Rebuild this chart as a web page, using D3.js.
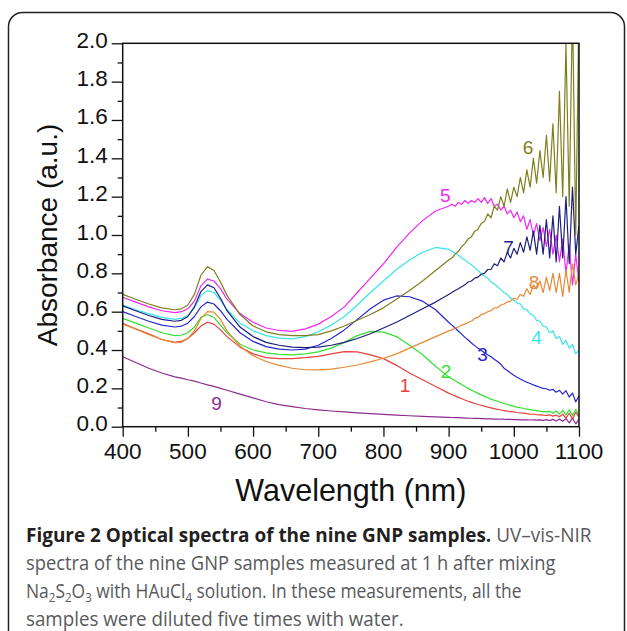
<!DOCTYPE html>
<html>
<head>
<meta charset="utf-8">
<script src="https://cdn.jsdelivr.net/npm/d3@7"></script>
<style>
  body { margin: 0; background: #fff; }
  svg { display: block; }
  .tick-label { font-family: "Liberation Sans", Arial, sans-serif; font-size: 22.5px; fill: #111; }
  .axis-title { font-family: "Liberation Sans", Arial, sans-serif; font-size: 30.5px; fill: #111; }
  .series-label { font-family: "Liberation Sans", Arial, sans-serif; font-size: 19px; }
  .caption { font-family: "Open Sans", "Noto Sans", sans-serif; font-size: 19.5px; fill: #58595b; }
  .caption .bold { font-weight: bold; fill: #231f20; }
</style>
</head>
<body>
<svg id="spectra" width="627" height="631"></svg>
<script>
// wavelength grid (nm): coarse through the plasmon region, fine in the noisy NIR tail
var wlHead = [400, 420, 440, 460, 480, 490, 500, 510, 520, 530, 540, 550, 560, 580, 600,
  620, 640, 660, 680, 700, 720, 740, 760, 780, 800, 820, 840, 860, 880, 900];
var wlTail = [905, 910, 915, 920, 925, 930, 935, 940, 945, 950, 955, 960, 965, 970, 975,
  980, 985, 990, 995, 1000, 1005, 1010, 1015, 1020, 1025, 1030, 1035, 1040, 1045, 1050,
  1055, 1060, 1065, 1070, 1075, 1080, 1085, 1090, 1095, 1100];

// absorbance, one array per sample (same order as the grid)
var sample1 = [0.54, 0.51, 0.485, 0.455, 0.44, 0.445, 0.46, 0.49, 0.525, 0.545, 0.535, 0.505, 0.47, 0.415, 0.38,
  0.36, 0.355, 0.355, 0.36, 0.367, 0.38, 0.392, 0.39, 0.375, 0.355, 0.32, 0.28, 0.245, 0.21, 0.175,
  0.168, 0.161, 0.153, 0.146, 0.139, 0.133, 0.127, 0.121, 0.116, 0.112, 0.107, 0.102, 0.098, 0.094, 0.090,
  0.087, 0.084, 0.081, 0.079, 0.077, 0.074, 0.072, 0.071, 0.068, 0.066, 0.065, 0.063, 0.062, 0.060, 0.059,
  0.062, 0.055, 0.060, 0.052, 0.065, 0.045, 0.070, 0.040, 0.075, 0.050];
var sample2 = [0.565, 0.54, 0.515, 0.49, 0.475, 0.477, 0.49, 0.52, 0.57, 0.585, 0.57, 0.53, 0.49, 0.43, 0.40,
  0.385, 0.377, 0.375, 0.38, 0.39, 0.41, 0.44, 0.475, 0.497, 0.493, 0.47, 0.425, 0.375, 0.315, 0.26,
  0.25, 0.24, 0.23, 0.22, 0.21, 0.20, 0.19, 0.182, 0.174, 0.166, 0.158, 0.151, 0.144, 0.138, 0.132,
  0.126, 0.121, 0.116, 0.111, 0.106, 0.102, 0.099, 0.095, 0.092, 0.089, 0.086, 0.084, 0.081, 0.079, 0.077,
  0.080, 0.070, 0.082, 0.066, 0.085, 0.062, 0.088, 0.058, 0.090, 0.060];
var sample3 = [0.60, 0.575, 0.55, 0.53, 0.52, 0.525, 0.54, 0.575, 0.625, 0.65, 0.64, 0.605, 0.56, 0.49, 0.445,
  0.418, 0.405, 0.40, 0.405, 0.425, 0.46, 0.505, 0.56, 0.615, 0.66, 0.682, 0.678, 0.655, 0.61, 0.545,
  0.53, 0.515, 0.498, 0.483, 0.466, 0.452, 0.437, 0.423, 0.41, 0.398, 0.386, 0.375, 0.365, 0.352, 0.34,
  0.326, 0.305, 0.293, 0.28, 0.268, 0.258, 0.249, 0.24, 0.232, 0.225, 0.218, 0.212, 0.206, 0.20, 0.198,
  0.19, 0.195, 0.18, 0.19, 0.17, 0.188, 0.155, 0.175, 0.13, 0.16];
var sample4 = [0.635, 0.61, 0.59, 0.57, 0.56, 0.565, 0.58, 0.62, 0.685, 0.71, 0.70, 0.66, 0.61, 0.54, 0.50,
  0.475, 0.462, 0.458, 0.47, 0.495, 0.53, 0.575, 0.635, 0.70, 0.76, 0.82, 0.87, 0.91, 0.935, 0.925,
  0.915, 0.905, 0.895, 0.88, 0.87, 0.855, 0.845, 0.83, 0.815, 0.80, 0.785, 0.775, 0.755, 0.745, 0.73,
  0.715, 0.70, 0.69, 0.67, 0.66, 0.645, 0.64, 0.615, 0.61, 0.59, 0.58, 0.555, 0.55, 0.525, 0.52,
  0.49, 0.50, 0.46, 0.47, 0.43, 0.45, 0.41, 0.43, 0.38, 0.40];
var sample5 = [0.675, 0.65, 0.625, 0.605, 0.595, 0.60, 0.615, 0.655, 0.735, 0.77, 0.76, 0.72, 0.665, 0.59, 0.545,
  0.515, 0.502, 0.497, 0.51, 0.535, 0.575, 0.625, 0.70, 0.775, 0.85, 0.935, 1.01, 1.075, 1.125, 1.15,
  1.16, 1.15, 1.17, 1.16, 1.18, 1.165, 1.18, 1.17, 1.19, 1.17, 1.195, 1.165, 1.19, 1.15, 1.16,
  1.13, 1.15, 1.11, 1.13, 1.09, 1.12, 1.07, 1.10, 1.03, 1.08, 1.00, 1.06, 0.97, 1.04, 0.94,
  1.03, 0.90, 1.00, 0.86, 0.98, 0.80, 0.95, 0.74, 0.90, 0.75];
var sample6 = [0.69, 0.665, 0.64, 0.62, 0.61, 0.615, 0.635, 0.69, 0.79, 0.835, 0.815, 0.755, 0.685, 0.585, 0.525,
  0.495, 0.48, 0.475, 0.475, 0.48, 0.50, 0.525, 0.555, 0.585, 0.62, 0.665, 0.71, 0.76, 0.815, 0.87,
  0.88, 0.90, 0.915, 0.94, 0.955, 0.98, 0.99, 1.02, 1.03, 1.06, 1.07, 1.11, 1.09, 1.15, 1.13,
  1.20, 1.15, 1.24, 1.17, 1.25, 1.20, 1.30, 1.22, 1.34, 1.25, 1.40, 1.27, 1.44, 1.30, 1.52,
  1.28, 1.58, 1.22, 1.75, 1.20, 2.00, 1.15, 2.20, 1.00, 2.20];
var sample7 = [0.63, 0.605, 0.58, 0.56, 0.55, 0.555, 0.575, 0.625, 0.705, 0.74, 0.725, 0.67, 0.605, 0.52, 0.47,
  0.44, 0.425, 0.415, 0.412, 0.415, 0.425, 0.44, 0.46, 0.485, 0.515, 0.545, 0.58, 0.615, 0.65, 0.69,
  0.70, 0.71, 0.72, 0.73, 0.74, 0.755, 0.76, 0.775, 0.78, 0.795, 0.80, 0.82, 0.82, 0.85, 0.84,
  0.88, 0.86, 0.91, 0.88, 0.93, 0.90, 0.96, 0.91, 0.99, 0.92, 1.02, 0.90, 1.05, 0.90, 1.08,
  0.88, 1.10, 0.86, 1.15, 0.88, 1.20, 0.85, 1.25, 0.90, 1.05];
var sample8 = [0.535, 0.51, 0.48, 0.455, 0.438, 0.44, 0.46, 0.50, 0.565, 0.60, 0.598, 0.56, 0.50, 0.42, 0.37,
  0.34, 0.32, 0.305, 0.297, 0.296, 0.30, 0.31, 0.322, 0.338, 0.357, 0.38, 0.41, 0.44, 0.47, 0.50,
  0.505, 0.515, 0.52, 0.53, 0.535, 0.545, 0.55, 0.565, 0.57, 0.585, 0.59, 0.60, 0.605, 0.62, 0.62,
  0.635, 0.64, 0.65, 0.655, 0.67, 0.665, 0.69, 0.68, 0.72, 0.69, 0.74, 0.72, 0.76, 0.70, 0.78,
  0.71, 0.80, 0.70, 0.80, 0.68, 0.82, 0.70, 0.85, 0.74, 0.80];
var sample9 = [0.365, 0.335, 0.305, 0.28, 0.26, 0.253, 0.245, 0.238, 0.228, 0.218, 0.21, 0.20, 0.19, 0.17, 0.15,
  0.13, 0.115, 0.105, 0.095, 0.088, 0.082, 0.077, 0.072, 0.068, 0.064, 0.060, 0.057, 0.054, 0.051, 0.049,
  0.048, 0.047, 0.047, 0.046, 0.045, 0.045, 0.044, 0.043, 0.043, 0.042, 0.042, 0.041, 0.041, 0.040, 0.040,
  0.039, 0.039, 0.038, 0.038, 0.037, 0.037, 0.036, 0.036, 0.036, 0.035, 0.036, 0.034, 0.036, 0.033, 0.037,
  0.032, 0.038, 0.030, 0.040, 0.028, 0.042, 0.020, 0.045, 0.015, 0.040];

var sampleNames = ["1", "2", "3", "4", "5", "6", "7", "8", "9"];
var sampleColors = ["#e8403c", "#33e033", "#2626d0", "#38e4ea", "#f028f0", "#7f7f1e", "#1e1e7c", "#e58a34", "#8e2c8e"];
// where each number sits, in data units [wavelength, absorbance]
var labelPos = [[833, 0.217], [896, 0.29], [952, 0.38], [1035, 0.47], [895, 1.21],
  [1022, 1.46], [992, 0.94], [1031, 0.755], [544, 0.125]];
var drawOrder = [8, 0, 1, 2, 3, 4, 7, 6, 5];

var xTicks = [400, 500, 600, 700, 800, 900, 1000, 1100];
var yTicks = [0, 0.2, 0.4, 0.6, 0.8, 1.0, 1.2, 1.4, 1.6, 1.8, 2.0];

var captionLines = [
  [{ t: "Figure 2 Optical spectra of the nine GNP samples.", b: true }, { t: " UV\u2013vis-NIR" }],
  [{ t: "spectra of the nine GNP samples measured at 1 h after mixing" }],
  [{ t: "Na" }, { t: "2", sub: true }, { t: "S" }, { t: "2", sub: true }, { t: "O" }, { t: "3", sub: true },
   { t: " with HAuCl" }, { t: "4", sub: true }, { t: " solution. In these measurements, all the" }],
  [{ t: "samples were diluted five times with water." }]
];
var captionWidths = [566, 530, 496, 378];

/**
 * Draws the framed absorbance plot.
 */
function drawSpectra(svg) {
  var left = 122.7, top = 43.3, right = 579, bottom = 426.7;
  var wavelengths = wlHead.concat(wlTail);
  var samples = [sample1, sample2, sample3, sample4, sample5, sample6, sample7, sample8, sample9];

  var xScale = d3.scaleLinear().domain([400, 1100]).range([left, right]);
  var yScale = d3.scaleLinear().domain([0, 2]).range([bottom, top]);

  svg.append("defs").append("clipPath")
    .attr("id", "plot-clip")
    .append("rect")
    .attr("x", left).attr("y", top)
    .attr("width", right - left).attr("height", bottom - top);

  var line = d3.line()
    .x(function(d) { return xScale(d[0]); })
    .y(function(d) { return yScale(d[1]); });

  var curves = svg.append("g").attr("clip-path", "url(#plot-clip)");
  drawOrder.forEach(function(i) {
    var pts = wavelengths.map(function(w, k) { return [w, samples[i][k]]; });
    curves.append("path")
      .attr("d", line(pts))
      .attr("fill", "none")
      .attr("stroke", sampleColors[i])
      .attr("stroke-width", 1.2)
      .attr("stroke-linejoin", "round");
  });

  // x axis: major ticks every 100 nm, minor every 50 nm
  var xAxis = svg.append("g")
    .attr("transform", "translate(0," + bottom + ")")
    .call(d3.axisBottom(xScale).tickValues(d3.range(400, 1101, 50)).tickSize(5).tickFormat(""));
  xAxis.selectAll(".tick line").filter(function(d) { return d % 100 === 0; }).attr("y2", 10);
  xAxis.select(".domain").remove();
  xAxis.selectAll("line").attr("stroke", "#111").attr("stroke-width", 1.3);

  var yAxis = svg.append("g")
    .attr("transform", "translate(" + left + ",0)")
    .call(d3.axisLeft(yScale).tickValues(d3.range(0, 21).map(function(v) { return v / 10; })).tickSize(5).tickFormat(""));
  yAxis.selectAll(".tick line").filter(function(d, i) { return i % 2 === 0; }).attr("x2", -11);
  yAxis.select(".domain").remove();
  yAxis.selectAll("line").attr("stroke", "#111").attr("stroke-width", 1.3);

  svg.append("rect")
    .attr("x", left).attr("y", top)
    .attr("width", right - left).attr("height", bottom - top)
    .attr("fill", "none")
    .attr("stroke", "#111")
    .attr("stroke-width", 1.5);

  svg.selectAll(".x-label")
    .data(xTicks)
    .enter().append("text")
    .attr("class", "tick-label")
    .attr("x", function(d) { return xScale(d); })
    .attr("y", bottom + 32.5)
    .attr("text-anchor", "middle")
    .text(function(d) { return d; });

  svg.selectAll(".y-label")
    .data(yTicks)
    .enter().append("text")
    .attr("class", "tick-label")
    .attr("x", left - 15)
    .attr("y", function(d) { return yScale(d) + 4.5; })
    .attr("text-anchor", "end")
    .text(function(d) { return d.toFixed(1); });

  svg.append("text")
    .attr("class", "axis-title")
    .attr("x", (left + right) / 2)
    .attr("y", 501)
    .attr("text-anchor", "middle")
    .text("Wavelength (nm)");

  svg.append("text")
    .attr("class", "axis-title")
    .style("font-size", "28px")
    .attr("transform", "translate(57," + ((top + bottom) / 2) + ") rotate(-90)")
    .attr("text-anchor", "middle")
    .text("Absorbance (a.u.)");

  svg.selectAll(".series-label")
    .data(labelPos)
    .enter().append("text")
    .attr("class", "series-label")
    .attr("x", function(d) { return xScale(d[0]); })
    .attr("y", function(d) { return yScale(d[1]) + 7; })
    .attr("text-anchor", "middle")
    .attr("fill", function(d, i) { return sampleColors[i]; })
    .text(function(d, i) { return sampleNames[i]; });
}

/**
 * Writes the figure caption under the plot, squeezing each line
 * horizontally to the width it has in the original.
 */
function drawCaption(svg) {
  var lineY = [542, 570, 598, 626];
  captionLines.forEach(function(parts, i) {
    var g = svg.append("g");
    var text = g.append("text").attr("class", "caption");
    var wasSub = false;
    parts.forEach(function(p) {
      var span = text.append("tspan").text(p.t);
      if (p.b) span.attr("class", "bold");
      if (p.sub) span.attr("font-size", "13px").attr("dy", 4);
      else if (wasSub) span.attr("dy", -4);
      wasSub = !!p.sub;
    });
    var natural = text.node().getComputedTextLength();
    var sx = captionWidths[i] / natural;
    g.attr("transform", "translate(26," + lineY[i] + ") scale(" + sx + ",1)");
  });
}

var svg = d3.select("#spectra");

// rounded panel border, open past the bottom edge
svg.append("rect")
  .attr("x", 8.5).attr("y", 12.5)
  .attr("width", 616).attr("height", 640)
  .attr("rx", 14)
  .attr("fill", "none")
  .attr("stroke", "#222")
  .attr("stroke-width", 1.5);

drawSpectra(svg);
drawCaption(svg);
</script>
</body>
</html>
